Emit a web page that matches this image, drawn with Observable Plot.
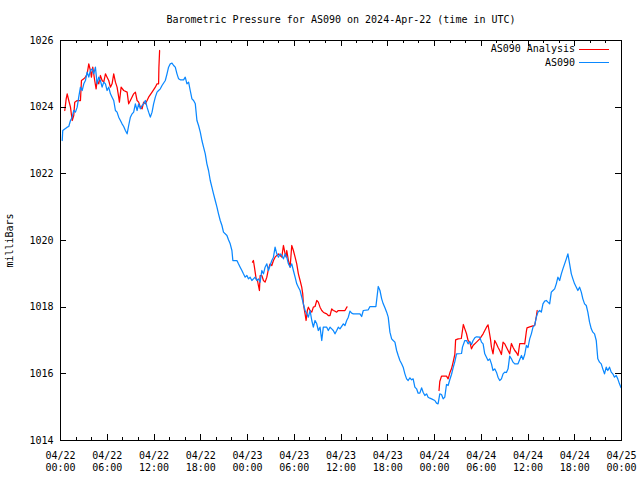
<!DOCTYPE html>
<html>
<head>
<meta charset="utf-8">
<script src="https://cdn.jsdelivr.net/npm/d3@7"></script>
<script src="https://cdn.jsdelivr.net/npm/@observablehq/plot@0.6"></script>
<style>
  body { margin: 0; background: #fff; }
  #wrap { position: relative; width: 640px; height: 480px; font-family: "DejaVu Sans Mono", monospace; font-size: 10px; color: #000; }
  .abs { position: absolute; line-height: 12px; white-space: pre; }
  .key { position: absolute; height: 1px; }
</style>
</head>
<body>
<div id="wrap">
  <div class="abs" style="left:60px;width:562px;top:14px;text-align:center;">Barometric Pressure for AS090 on 2024-Apr-22 (time in UTC)</div>
  <div class="abs" style="left:0;width:575px;top:43px;text-align:right;">AS090 Analysis</div>
  <div class="key" style="left:579px;width:30px;top:49px;background:#ff0000;"></div>
  <div class="abs" style="left:0;width:575px;top:57px;text-align:right;">AS090</div>
  <div class="key" style="left:579px;width:30px;top:62px;background:#0a88ff;"></div>
</div>
<script>
// time in hours since 2024-04-22 00:00 UTC, pressure in millibars
const startDay = "2024-04-22T00:00:00Z";
const yTicks = [1014, 1016, 1018, 1020, 1022, 1024, 1026];
const majorHours = [0, 6, 12, 18, 24, 30, 36, 42, 48, 54, 60, 66, 72];
const minorHours = [2, 4, 8, 10, 14, 16, 20, 22, 26, 28, 32, 34, 38, 40, 44, 46, 50, 52, 56, 58, 62, 64, 68, 70];

const as090 = [[0.22,1023.00],[0.29,1023.30],[0.86,1023.40],[1.06,1023.42],[1.28,1023.60],[1.50,1023.70],[1.70,1023.90],[1.92,1023.85],[2.14,1024.00],[2.34,1024.30],[2.56,1024.60],[2.78,1024.50],[2.99,1024.70],[3.20,1024.80],[3.42,1025.05],[3.63,1024.90],[3.84,1025.10],[4.06,1025.15],[4.27,1025.00],[4.48,1025.20],[4.70,1024.70],[4.91,1024.90],[5.12,1024.80],[5.34,1024.60],[5.55,1024.75],[5.77,1024.70],[5.98,1024.50],[6.19,1024.60],[6.41,1024.40],[6.62,1024.30],[6.83,1024.20],[7.05,1023.90],[7.26,1023.85],[7.47,1023.70],[7.69,1023.60],[7.90,1023.50],[8.11,1023.42],[8.33,1023.30],[8.55,1023.20],[8.75,1023.45],[8.97,1023.70],[9.19,1023.80],[9.39,1023.85],[9.61,1024.10],[9.83,1023.90],[10.03,1024.10],[10.25,1023.95],[10.47,1024.05],[10.67,1024.10],[10.89,1024.20],[11.11,1024.00],[11.31,1023.85],[11.53,1023.70],[11.75,1023.85],[11.95,1024.10],[12.17,1024.30],[12.39,1024.45],[12.59,1024.50],[12.81,1024.55],[13.03,1024.65],[13.45,1024.80],[13.67,1025.00],[13.87,1025.20],[14.09,1025.30],[14.31,1025.32],[14.52,1025.25],[14.73,1025.20],[14.95,1025.00],[15.16,1024.85],[15.37,1024.82],[15.80,1024.82],[16.01,1024.90],[16.23,1024.70],[16.44,1024.75],[16.65,1024.50],[16.87,1024.25],[17.08,1024.20],[17.30,1024.10],[17.51,1023.60],[17.72,1023.45],[17.94,1023.25],[18.15,1023.00],[18.36,1022.80],[18.58,1022.60],[18.79,1022.30],[19.00,1022.10],[19.22,1021.80],[19.43,1021.60],[19.64,1021.40],[19.86,1021.20],[20.08,1021.00],[20.28,1020.80],[20.50,1020.60],[20.72,1020.45],[20.92,1020.25],[21.36,1020.15],[21.56,1020.02],[21.78,1019.90],[22.00,1019.70],[22.12,1019.40],[22.64,1019.40],[22.84,1019.30],[23.06,1019.20],[23.28,1019.10],[23.48,1019.00],[23.70,1018.90],[23.92,1018.95],[24.12,1018.85],[24.34,1018.90],[24.56,1018.80],[24.76,1018.85],[24.98,1018.90],[25.20,1018.80],[25.40,1018.85],[25.62,1018.75],[25.84,1019.10],[26.05,1019.00],[26.26,1019.20],[26.48,1019.30],[26.69,1019.10],[26.90,1019.25],[27.12,1019.40],[27.33,1019.50],[27.54,1019.80],[27.76,1019.60],[27.97,1019.50],[28.19,1019.60],[28.40,1019.55],[28.61,1019.45],[28.83,1019.60],[29.04,1019.50],[29.25,1019.30],[29.47,1019.20],[29.68,1019.30],[29.89,1019.10],[30.11,1018.90],[30.32,1018.70],[30.53,1018.60],[30.75,1018.50],[30.96,1018.30],[31.17,1018.10],[31.39,1017.90],[31.61,1017.80],[31.81,1017.70],[32.03,1017.90],[32.25,1017.60],[32.45,1017.40],[32.67,1017.60],[32.89,1017.50],[33.09,1017.30],[33.31,1017.40],[33.53,1017.00],[33.73,1017.40],[33.95,1017.40],[34.17,1017.40],[34.37,1017.30],[34.59,1017.40],[34.81,1017.35],[35.01,1017.30],[35.23,1017.20],[35.45,1017.30],[35.65,1017.40],[35.87,1017.35],[36.30,1017.50],[36.51,1017.45],[36.73,1017.60],[36.94,1017.70],[37.15,1017.88],[37.37,1017.82],[37.58,1017.80],[38.43,1017.80],[38.65,1017.72],[38.86,1017.90],[39.50,1017.92],[39.72,1018.02],[40.48,1018.02],[40.78,1018.62],[41.00,1018.50],[41.22,1018.25],[41.42,1018.10],[41.64,1017.98],[41.86,1017.85],[42.06,1017.70],[42.28,1017.25],[42.50,1017.05],[42.70,1017.00],[42.92,1016.95],[43.14,1016.70],[43.34,1016.55],[43.56,1016.40],[43.78,1016.30],[43.98,1016.20],[44.20,1016.00],[44.42,1015.85],[44.62,1015.80],[44.84,1015.88],[45.06,1015.82],[45.26,1015.85],[45.48,1015.60],[45.70,1015.55],[45.90,1015.42],[46.12,1015.42],[46.34,1015.58],[46.54,1015.45],[46.76,1015.35],[46.98,1015.40],[47.18,1015.30],[47.40,1015.27],[47.62,1015.25],[48.04,1015.20],[48.26,1015.12],[48.46,1015.10],[48.68,1015.40],[48.90,1015.38],[49.11,1015.25],[49.32,1015.30],[49.54,1015.68],[49.75,1015.65],[49.97,1015.83],[50.18,1015.98],[50.39,1016.18],[50.61,1016.37],[50.83,1016.60],[51.47,1016.61],[51.59,1016.80],[51.89,1017.00],[52.10,1017.00],[52.31,1016.90],[52.53,1016.97],[52.75,1016.88],[52.95,1017.00],[53.17,1017.08],[53.39,1017.11],[53.81,1017.10],[54.03,1016.95],[54.24,1016.90],[54.45,1016.60],[54.67,1016.50],[54.87,1016.40],[55.09,1016.45],[55.31,1016.30],[55.51,1016.10],[55.73,1016.15],[55.95,1016.05],[56.15,1015.90],[56.37,1015.80],[56.59,1015.85],[56.80,1016.00],[57.01,1016.05],[57.23,1016.04],[57.44,1016.15],[57.65,1016.53],[57.87,1016.45],[58.08,1016.35],[58.30,1016.30],[58.72,1016.30],[58.94,1016.43],[59.16,1016.55],[59.36,1016.43],[59.58,1016.58],[59.79,1016.85],[60.00,1016.79],[60.22,1017.05],[60.43,1017.20],[60.64,1017.40],[60.86,1017.46],[61.07,1017.70],[61.28,1017.85],[61.49,1017.90],[61.71,1017.85],[61.92,1018.10],[62.14,1018.18],[62.35,1018.20],[62.56,1018.15],[62.78,1018.10],[62.99,1018.45],[63.20,1018.50],[63.42,1018.55],[63.63,1018.70],[63.84,1018.90],[64.06,1018.80],[64.28,1019.00],[64.48,1019.15],[64.70,1019.30],[64.92,1019.45],[65.12,1019.60],[65.34,1019.30],[65.56,1019.00],[65.76,1018.85],[65.98,1018.70],[66.20,1018.60],[66.40,1018.50],[66.62,1018.60],[66.84,1018.45],[67.04,1018.25],[67.26,1018.10],[67.48,1018.05],[67.68,1017.85],[67.90,1017.55],[68.12,1017.35],[68.32,1017.25],[68.54,1017.20],[68.76,1017.00],[68.96,1016.45],[69.18,1016.35],[69.40,1016.30],[69.60,1016.15],[69.82,1016.00],[70.04,1016.20],[70.24,1016.10],[70.46,1016.20],[70.68,1016.05],[70.88,1016.00],[71.10,1015.90],[71.32,1015.95],[71.52,1015.85],[71.74,1015.70],[71.93,1015.59]];

const analysisRun1 = [[0.55,1023.90],[0.73,1024.25],[0.86,1024.40],[1.06,1024.20],[1.28,1024.00],[1.50,1023.60],[1.70,1023.75],[1.83,1024.15],[2.14,1024.20],[2.56,1024.20],[2.69,1024.80],[2.99,1024.85],[3.20,1024.90],[3.42,1025.00],[3.63,1025.30],[3.84,1025.10],[3.97,1024.90],[4.14,1025.20],[4.39,1024.80],[4.57,1024.55],[4.70,1024.80],[4.91,1024.70],[5.12,1024.95],[5.34,1024.80],[5.55,1024.75],[5.77,1025.00],[5.98,1024.90],[6.19,1024.80],[6.41,1024.60],[6.62,1024.70],[6.83,1025.00],[7.05,1024.75],[7.26,1024.60],[7.47,1024.30],[7.56,1024.15],[7.78,1024.60],[8.11,1024.50],[8.55,1024.45],[8.75,1024.10],[8.97,1024.20],[9.39,1024.40],[9.61,1024.45],[9.83,1024.20],[10.03,1024.15],[10.25,1024.00],[10.47,1023.95],[10.67,1024.15],[10.89,1024.10],[11.11,1024.20],[11.31,1024.30],[11.75,1024.45],[12.17,1024.60],[12.39,1024.70],[12.59,1024.70],[12.63,1025.20],[12.72,1025.70]];

const analysisRun2 = [[24.64,1019.35],[24.76,1019.40],[24.89,1019.20],[25.11,1018.85],[25.28,1018.80],[25.40,1018.65],[25.53,1018.50],[25.62,1018.95],[25.84,1018.95],[26.05,1018.80],[26.26,1018.75],[26.48,1018.90],[26.69,1019.15],[26.90,1019.30],[27.12,1019.25],[27.33,1019.40],[27.54,1019.50],[27.97,1019.60],[28.19,1019.55],[28.40,1019.50],[28.61,1019.85],[28.83,1019.60],[28.96,1019.50],[29.04,1019.70],[29.25,1019.40],[29.47,1019.20],[29.68,1019.85],[29.89,1019.70],[30.11,1019.50],[30.32,1019.30],[30.53,1019.00],[30.75,1018.80],[30.96,1018.60],[31.09,1018.40],[31.17,1018.10],[31.39,1017.80],[31.52,1017.60],[31.68,1017.90],[31.81,1018.00],[32.03,1017.90],[32.25,1017.85],[32.45,1018.00],[32.67,1018.02],[32.89,1018.20],[33.09,1018.15],[33.31,1018.00],[33.53,1017.90],[33.73,1017.85],[33.95,1017.82],[34.17,1017.80],[34.37,1017.75],[34.59,1017.75],[34.81,1017.95],[35.01,1017.90],[35.23,1017.88],[35.45,1017.85],[35.65,1017.90],[36.51,1017.90],[36.77,1018.01]];

const analysisRun3 = [[48.58,1015.50],[48.68,1015.77],[48.90,1015.93],[49.54,1015.93],[49.75,1015.85],[49.97,1016.03],[50.18,1016.15],[50.39,1016.35],[50.61,1016.58],[50.71,1017.02],[51.03,1017.05],[51.44,1017.06],[51.70,1017.48],[51.89,1017.35],[52.10,1017.21],[52.31,1017.00],[52.53,1016.95],[52.75,1016.75],[52.95,1016.85],[53.39,1016.95],[53.81,1017.05],[54.24,1017.20],[54.67,1017.40],[54.87,1017.47],[55.00,1017.30],[55.18,1017.05],[55.31,1016.80],[55.51,1016.60],[55.73,1017.00],[55.95,1016.90],[56.15,1016.80],[56.37,1016.70],[56.59,1016.58],[56.80,1016.95],[57.01,1016.90],[57.23,1016.80],[57.44,1016.70],[57.65,1016.60],[57.87,1016.91],[58.08,1016.80],[58.30,1016.70],[58.51,1016.64],[58.72,1016.55],[58.94,1016.91],[59.36,1016.91],[59.58,1016.90],[59.79,1017.27],[59.87,1017.38],[60.22,1017.41],[60.64,1017.44],[60.86,1017.45],[61.07,1017.72],[61.18,1017.90]];

const t0 = Date.parse(startDay);
const toDate = h => new Date(t0 + h * 3600e3);
const blueData = as090.map(([h, p]) => ({t: toDate(h), p}));
const redData = [analysisRun1, analysisRun2, analysisRun3].flatMap((run, k) => run.map(([h, p]) => ({t: toDate(h), p, run: k})));
const major = majorHours.map(toDate);
const minor = minorHours.map(toDate);
const fmt = d3.utcFormat("%m/%d\n%H:%M");

const W = 640, H = 480, mL = 60, mR = 19, mT = 40, mB = 40;
const fw = W - mL - mR, fh = H - mT - mB;
const majorLen = 6, minorLen = 3;
const crisp = {stroke: "black", strokeWidth: 1, shapeRendering: "crispEdges"};

const chart = Plot.plot({
  width: W,
  height: H,
  marginLeft: mL,
  marginRight: mR,
  marginTop: mT,
  marginBottom: mB,
  style: {fontFamily: "DejaVu Sans Mono, monospace", fontSize: "10px", background: "white", color: "black", overflow: "visible"},
  x: {type: "utc", domain: [toDate(0), toDate(72)]},
  y: {domain: [1014, 1026]},
  marks: [
    Plot.line(redData, {x: "t", y: "p", z: "run", stroke: "#ff0000", strokeWidth: 1.25}),
    Plot.line(blueData, {x: "t", y: "p", stroke: "#0a88ff", strokeWidth: 1.25}),
    Plot.axisY(yTicks, {anchor: "left", tickSize: 0, tickPadding: 7, tickFormat: d => String(d), label: "milliBars", labelAnchor: "center", labelArrow: "none", labelOffset: 55}),
    Plot.axisX(major, {anchor: "bottom", tickSize: 0, tickPadding: 10, tickFormat: fmt, lineHeight: 1.2, label: null}),
    // inward tick marks on all four sides (gnuplot style)
    Plot.tickY(yTicks, {y: d => d, ...crisp, insetRight: fw - majorLen}),
    Plot.tickY(yTicks, {y: d => d, ...crisp, insetLeft: fw - majorLen}),
    Plot.tickX(major, {x: d => d, ...crisp, insetTop: fh - majorLen}),
    Plot.tickX(major, {x: d => d, ...crisp, insetBottom: fh - majorLen}),
    Plot.tickX(minor, {x: d => d, ...crisp, insetTop: fh - minorLen}),
    Plot.tickX(minor, {x: d => d, ...crisp, insetBottom: fh - minorLen}),
    Plot.frame({...crisp})
  ]
});
const wrap = document.getElementById("wrap");
chart.style.position = "absolute";
chart.style.left = "0";
chart.style.top = "0";
wrap.insertBefore(chart, wrap.firstChild);
</script>
</body>
</html>
